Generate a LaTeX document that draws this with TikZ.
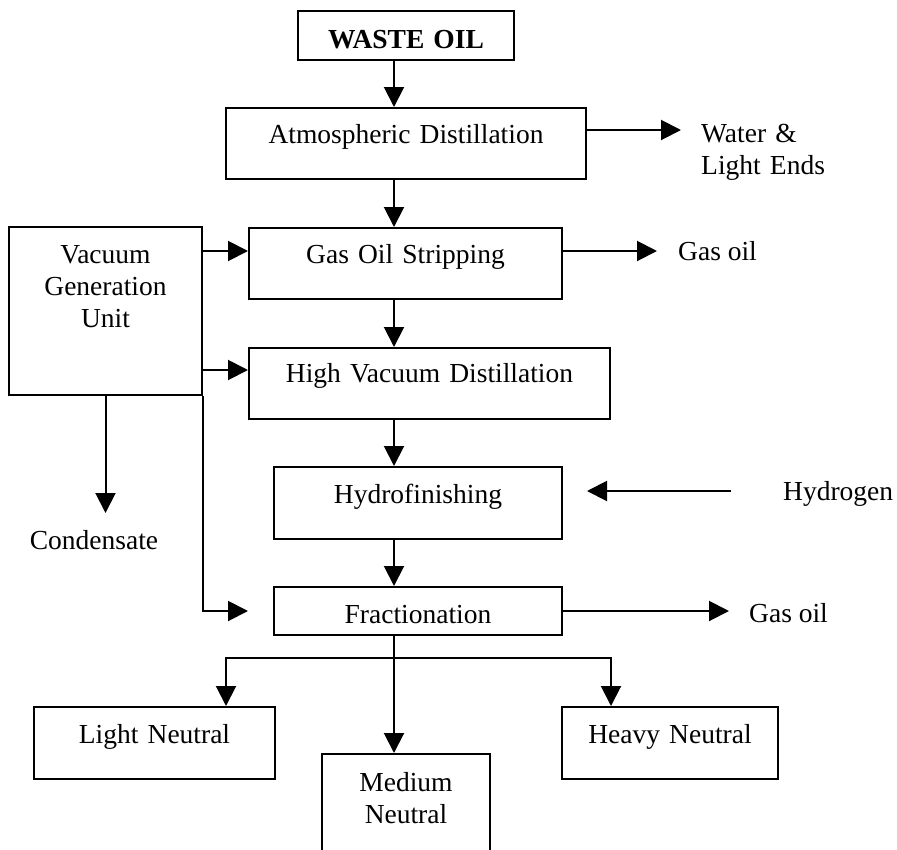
\documentclass[tikz,border=0pt]{standalone}
\usepackage{fontspec}
\setmainfont{Liberation Serif}
\usetikzlibrary{arrows.meta}
\begin{document}
\begin{tikzpicture}[x=1pt,y=-1pt,
  font=\fontsize{27.5}{32}\selectfont,
  unit/.style={draw, line width=2pt, inner sep=0pt, anchor=north, align=center},
  arr/.style={line width=2pt, -{Triangle[length=20pt,width=20pt]}},
  lbl/.style={inner sep=0pt}]
\useasboundingbox (0,0) rectangle (897,849);
\clip (0,0) rectangle (897,849);

% process units
\node[unit, text width=216pt, text height=37pt, text depth=12pt, font=\fontsize{27.5}{32}\selectfont\bfseries]
  (waste) at (406,10) {WASTE OIL};
\node[unit, text width=360pt, text height=35pt, text depth=36pt] (atm) at (406,107) {Atmospheric Distillation};
\node[unit, text width=313pt, text height=35pt, text depth=36pt] (gos) at (405.5,227) {Gas Oil Stripping};
\node[unit, text width=193pt, text height=36pt, text depth=132pt] (vgu) at (105.5,226) {Vacuum\\Generation\\Unit};
\node[unit, text width=361pt, text height=34pt, text depth=37pt] (hvd) at (429.5,347) {High Vacuum Distillation};
\node[unit, text width=288pt, text height=36pt, text depth=36pt] (hyd) at (418,466) {Hydrofinishing};
\node[unit, text width=288pt, text height=36pt, text depth=12pt] (frac) at (418,586) {Fractionation};
\node[unit, text width=241pt, text height=36pt, text depth=36pt] (ln) at (154.5,706) {Light Neutral};
\node[unit, text width=216pt, text height=36pt, text depth=36pt] (hn) at (670,706) {Heavy Neutral};
\node[unit, text width=168pt, text height=37pt, text depth=120pt] (mn) at (406,753) {Medium\\Neutral};

% stream labels
\node[lbl, anchor=north west, text width=150pt, align=left, text height=20pt] (water) at (701,122) {Water \&\\Light Ends};
\node[lbl, anchor=base west] (gasA) at (678,260) {Gas oil};
\node[lbl, anchor=base west] (hydrogen) at (783,500) {Hydrogen};
\node[lbl, anchor=base] (cond) at (94,549) {Condensate};
\node[lbl, anchor=base west] (gasB) at (749,622) {Gas oil};

% helper points
\coordinate (spine) at (394,0);
\coordinate (rowA) at (0,251);
\coordinate (rowB) at (0,370);
\coordinate (wOut) at (681,130);
\coordinate (gOut) at (657,251);
\coordinate (fOut) at (729,611);
\coordinate (h2From) at (731,491);
\coordinate (h2To) at (587,491);
\coordinate (fIn) at (248,611);
\coordinate (condTip) at (105.5,513);
\coordinate (split) at (394,658);
\coordinate (xl) at (226,658);
\coordinate (xh) at (611,658);

% main line
\draw[arr] (waste.south -| spine) -- (atm.north -| spine);
\draw[arr] (atm.south -| spine) -- (gos.north -| spine);
\draw[arr] (gos.south -| spine) -- (hvd.north -| spine);
\draw[arr] (hvd.south -| spine) -- (hyd.north -| spine);
\draw[arr] (hyd.south -| spine) -- (frac.north -| spine);
\draw[arr] (frac.south -| spine) -- (mn.north -| spine);
\draw[arr] (split) -- (xl) -- (ln.north -| xl);
\draw[arr] (split) -- (xh) -- (hn.north -| xh);

% side streams
\draw[arr] (atm.east |- wOut) -- (wOut);
\draw[arr] (gos.east |- gOut) -- (gOut);
\draw[arr] (frac.east |- fOut) -- (fOut);
\draw[arr] (h2From) -- (h2To);

% vacuum connections
\draw[arr] (vgu.east |- rowA) -- (gos.west |- rowA);
\draw[arr] (vgu.east |- rowB) -- (hvd.west |- rowB);
\draw[arr] (vgu.south east) -- (vgu.south east |- fIn) -- (fIn);
\draw[arr] (vgu.south) -- (condTip);
\end{tikzpicture}
\end{document}
